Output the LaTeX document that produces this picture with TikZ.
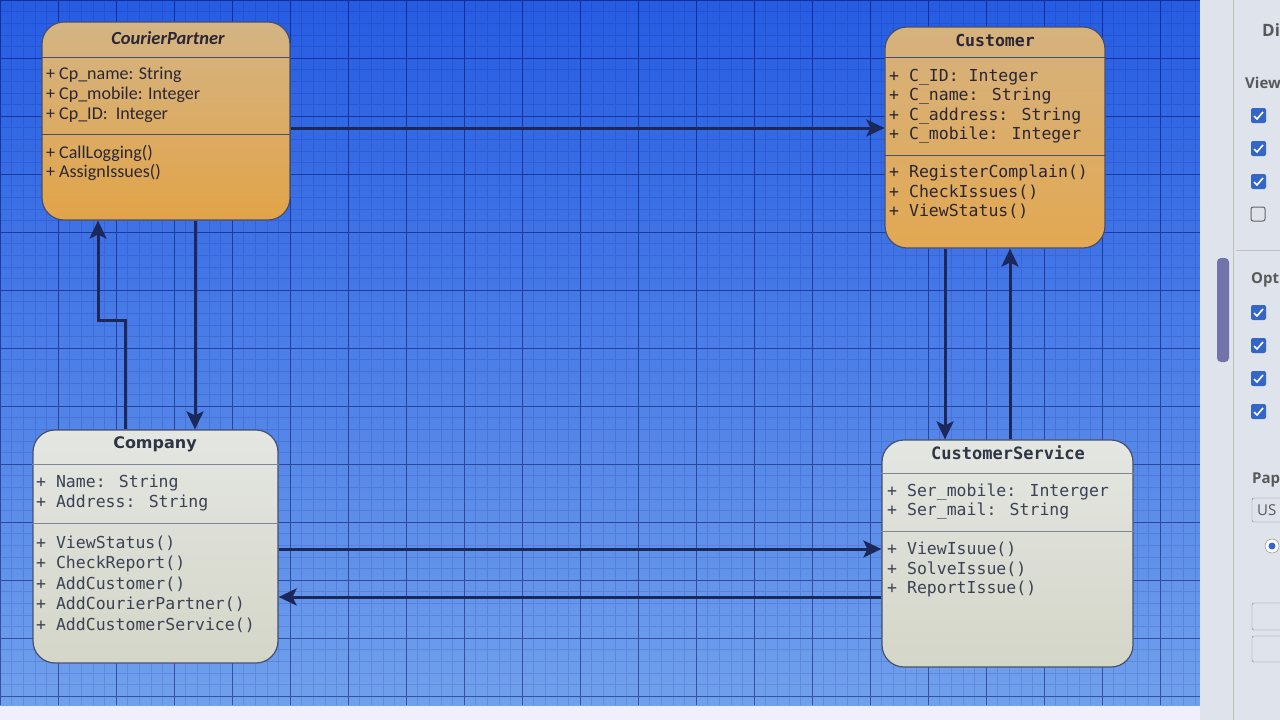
\documentclass[tikz,border=0pt]{standalone}
\usepackage{fontspec}
\usetikzlibrary{arrows.meta,positioning}
\newfontfamily\umlhand{Carlito}
\newfontfamily\umlmono{DejaVu Sans Mono}
\newfontfamily\umltitle{DejaVu Sans}
\newfontfamily\umlpanel{Open Sans}

\definecolor{gridtop}{RGB}{38,92,226}
\definecolor{gridbot}{RGB}{112,160,236}
\definecolor{linkblue}{RGB}{28,40,92}
\definecolor{boxedge}{RGB}{70,80,110}
\definecolor{cptop}{RGB}{212,180,132}
\definecolor{cpbot}{RGB}{226,164,72}
\definecolor{ctop}{RGB}{214,178,126}
\definecolor{cbot}{RGB}{226,168,82}
\definecolor{gtop}{RGB}{228,230,226}
\definecolor{gbot}{RGB}{212,214,200}
\definecolor{textdark}{RGB}{42,38,52}
\definecolor{textgrey}{RGB}{58,66,84}
\definecolor{panelbg}{RGB}{222,227,236}
\definecolor{checkblue}{RGB}{52,102,200}

\tikzset{
  classbox/.style={draw=boxedge, line width=1.2pt, rounded corners=22pt, inner sep=0pt},
  divline/.style={draw=boxedge, line width=1.1pt},
  handtext/.style={anchor=west, inner sep=0pt, text=textdark, font=\umlhand\fontsize{18}{20}\selectfont},
  monotext/.style={anchor=west, inner sep=0pt, font=\umlmono\fontsize{16.5}{20}\selectfont},
  link/.style={draw=linkblue, line width=3pt, -{Stealth[length=18pt,width=17pt,inset=4pt]}},
  paneltext/.style={anchor=west, inner sep=0pt, text=black!65, font=\umlpanel\bfseries\fontsize{15}{18}\selectfont}
}

\begin{document}
\begin{tikzpicture}[x=1pt,y=-1pt]
\useasboundingbox (0,0) rectangle (1280,720);

% screen background and grid
\fill[panelbg!80!blue!20] (0,0) rectangle (1280,720);
\shade[top color=gridtop, bottom color=gridbot] (0,0) rectangle (1200,705);
\draw[blue!45!black, opacity=0.12, line width=0.5pt] (0,0) grid[step=11.6pt] (1200,705);
\draw[blue!30!black, opacity=0.42, line width=0.9pt] (0,0) grid[step=58pt] (1200,705);

% side panel
\begin{scope}
\clip (1200,0) rectangle (1280,720);
\fill[panelbg] (1200,0) rectangle (1280,720);
\draw[black!25] (1233,0) -- (1233,720);
\draw[black!25] (1236,250) -- (1280,250);
\fill[black!60!blue!55, rounded corners=4pt] (1217,258) rectangle (1229,362);
\node[paneltext, font=\umlpanel\bfseries\fontsize{17}{20}\selectfont] (pdi) at (1262,30) {Di};
\node[paneltext] (pview) at (1245,83) {View};
\node[paneltext] (popt) at (1251,280) {Opt};
\node[paneltext] (ppap) at (1252,480) {Pap};
\foreach \yy in {115,148,181,312,345,378,411} {
  \fill[checkblue, rounded corners=2pt] (1251,\yy-7) rectangle ++(15,15);
  \draw[white, line width=1.6pt] (1254,\yy+1) -- (1257,\yy+4) -- (1263,\yy-3);
}
\draw[black!60, rounded corners=2pt, line width=1pt] (1251,207) rectangle ++(14,14);
\draw[black!50, rounded corners=2pt] (1252,498) rectangle (1290,522);
\node[paneltext, font=\umlpanel\fontsize{15}{18}\selectfont] (pus) at (1257,510) {US};
\draw[black!50, fill=white] (1272,546) circle (7);
\fill[checkblue] (1272,546) circle (3.5);
\draw[black!50, rounded corners=2pt] (1252,603) rectangle (1290,630);
\draw[black!50, rounded corners=2pt] (1252,636) rectangle (1290,662);
\end{scope}

% classes
\node[classbox, top color=cptop, bottom color=cpbot, minimum width=248pt, minimum height=198pt] (cp) at (166,121) {};
\node[classbox, top color=ctop, bottom color=cbot, minimum width=220pt, minimum height=221pt] (cust) at (995,137.5) {};
\node[classbox, top color=gtop, bottom color=gbot, minimum width=245pt, minimum height=233pt] (comp) at (155.5,546.5) {};
\node[classbox, top color=gtop, bottom color=gbot, minimum width=251pt, minimum height=227pt] (serv) at (1007.5,553.5) {};

% CourierPartner
\node[inner sep=0pt, text=textdark, font=\umlhand\bfseries\itshape\fontsize{18.5}{20}\selectfont] (cp-title) at (168,38) {CourierPartner};
\draw[divline] ([yshift=-36pt]cp.north west) -- ([yshift=-36pt]cp.north east);
\draw[divline] ([yshift=-113pt]cp.north west) -- ([yshift=-113pt]cp.north east);
\foreach \t [count=\i] in {+ Cp\_name: String, + Cp\_mobile: Integer, + Cp\_ID:\ \ Integer}
  \node[handtext] (cp-attr-\i) at (46,55+20*\i) {\t};
\foreach \t [count=\i] in {+ CallLogging(), + AssignIssues()}
  \node[handtext] (cp-op-\i) at (46,134+19*\i) {\t};

% Customer
\node[inner sep=0pt, text=textdark, font=\umlmono\bfseries\fontsize{16.5}{20}\selectfont] (cust-title) at (995,40) {Customer};
\draw[divline] ([yshift=-31pt]cust.north west) -- ([yshift=-31pt]cust.north east);
\draw[divline] ([yshift=-129pt]cust.north west) -- ([yshift=-129pt]cust.north east);
\foreach \t [count=\i] in {+ C\_ID: Integer, + C\_name: String, + C\_address: String, + C\_mobile: Integer}
  \node[monotext, text=textdark] (cust-attr-\i) at (889,57.5+19.5*\i) {\t};
\foreach \t [count=\i] in {+ RegisterComplain(), + CheckIssues(), + ViewStatus()}
  \node[monotext, text=textdark] (cust-op-\i) at (889,154+19*\i) {\t};

% Company
\node[inner sep=0pt, text=textgrey!80!black, font=\umltitle\bfseries\fontsize{16}{20}\selectfont] (comp-title) at (155,444) {Company};
\draw[divline, draw=boxedge!70] ([yshift=-35pt]comp.north west) -- ([yshift=-35pt]comp.north east);
\draw[divline, draw=boxedge!70] ([yshift=-94pt]comp.north west) -- ([yshift=-94pt]comp.north east);
\foreach \t [count=\i] in {+ Name: String, + Address: String}
  \node[monotext, text=textgrey] (comp-attr-\i) at (36,463+20*\i) {\t};
\foreach \t [count=\i] in {+ ViewStatus(), + CheckReport(), + AddCustomer(), + AddCourierPartner(), + AddCustomerService()}
  \node[monotext, text=textgrey] (comp-op-\i) at (36,522.5+20.5*\i) {\t};

% CustomerService
\node[inner sep=0pt, text=textgrey!80!black, font=\umlmono\bfseries\fontsize{17}{20}\selectfont] (serv-title) at (1008,453) {CustomerService};
\draw[divline, draw=boxedge!70] ([yshift=-34pt]serv.north west) -- ([yshift=-34pt]serv.north east);
\draw[divline, draw=boxedge!70] ([yshift=-92pt]serv.north west) -- ([yshift=-92pt]serv.north east);
\foreach \t [count=\i] in {+ Ser\_mobile: Interger, + Ser\_mail: String}
  \node[monotext, text=textgrey] (serv-attr-\i) at (887,473+19*\i) {\t};
\foreach \t [count=\i] in {+ ViewIsuue(), + SolveIssue(), + ReportIssue()}
  \node[monotext, text=textgrey] (serv-op-\i) at (887,529+20*\i) {\t};

% associations
\coordinate (jog) at (98,320);
\draw[link] ([yshift=-7pt]cp.east) -- ([yshift=-7pt]cp.east -| cust.west);
\draw[link] ([xshift=29pt]cp.south) -- ([xshift=29pt]cp.south |- comp.north);
\draw[link] ([xshift=-30.5pt]comp.north) |- (jog) -- (jog |- cp.south);
\draw[link] ([xshift=-50pt]cust.south) -- ([xshift=-50pt]cust.south |- serv.north);
\draw[link] ([xshift=2.5pt]serv.north) -- ([xshift=2.5pt]serv.north |- cust.south);
\draw[link] ([yshift=-2.5pt]comp.east) -- ([yshift=-2.5pt]comp.east -| serv.west);
\draw[link] ([yshift=-43.5pt]serv.west) -- ([yshift=-43.5pt]serv.west -| comp.east);
\end{tikzpicture}
\end{document}
